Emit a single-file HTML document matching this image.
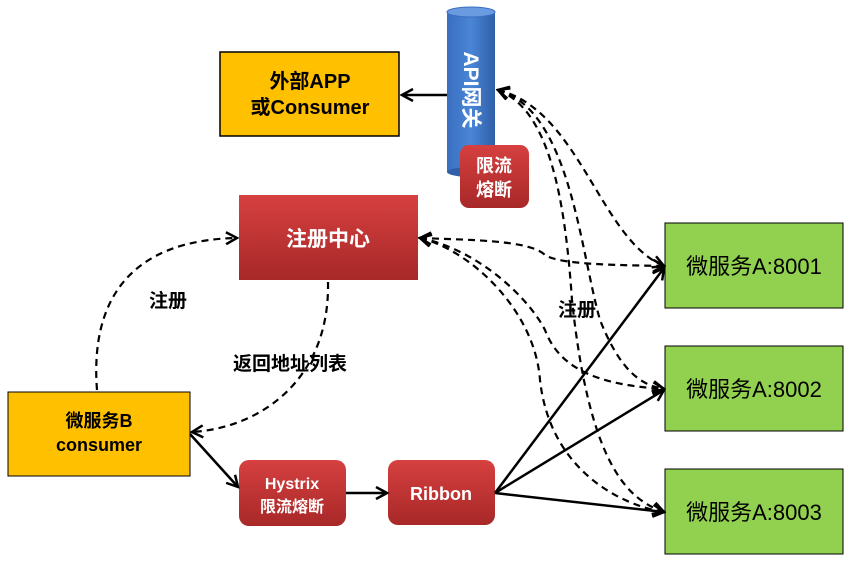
<!DOCTYPE html>
<html><head><meta charset="utf-8"><style>
body{margin:0;background:#fff;width:855px;height:563px;overflow:hidden}
svg text{font-family:"Liberation Sans","Noto Sans CJK SC",sans-serif}
</style></head><body>
<svg width="855" height="563" viewBox="0 0 855 563" xmlns="http://www.w3.org/2000/svg">
<defs>
<marker id="a" viewBox="0 0 14 14" refX="12" refY="7" markerWidth="14" markerHeight="14" markerUnits="userSpaceOnUse" orient="auto-start-reverse">
<path d="M1,1 L12,7 L1,13" fill="none" stroke="#000" stroke-width="2.5"/></marker>
<linearGradient id="r" x1="0" y1="0" x2="0" y2="1"><stop offset="0" stop-color="#d64040"/><stop offset="1" stop-color="#a82828"/></linearGradient>
<linearGradient id="b" x1="0" y1="0" x2="1" y2="0"><stop offset="0" stop-color="#3a6fc0"/><stop offset="0.5" stop-color="#4a85d6"/><stop offset="1" stop-color="#2f5fa8"/></linearGradient>
</defs>
<rect x="220" y="52" width="179" height="84" fill="#ffc000" stroke="#000" stroke-width="1.5"/>
<text x="310" y="88" font-size="20" font-weight="bold" text-anchor="middle">外部APP</text>
<text x="310" y="114" font-size="20" font-weight="bold" text-anchor="middle">或Consumer</text>
<rect x="447" y="12" width="48" height="160" fill="url(#b)"/>
<ellipse cx="471" cy="12" rx="24" ry="5" fill="#6a9ae0" stroke="#3a6fc0"/>
<ellipse cx="471" cy="172" rx="24" ry="5" fill="#2f5fa8"/>
<text x="471" y="97" font-size="21" font-weight="bold" fill="#fff" text-anchor="middle" transform="rotate(90 471 90)">API网关</text>
<rect x="460" y="145" width="69" height="63" rx="9" fill="url(#r)"/>
<text x="494" y="172" font-size="18" font-weight="bold" fill="#fff" text-anchor="middle">限流</text>
<text x="494" y="196" font-size="18" font-weight="bold" fill="#fff" text-anchor="middle">熔断</text>
<rect x="239" y="195" width="179" height="85" fill="url(#r)"/>
<text x="328" y="246" font-size="21" font-weight="bold" fill="#fff" text-anchor="middle">注册中心</text>
<rect x="8" y="392" width="182" height="84" fill="#ffc000" stroke="#000" stroke-width="1"/>
<text x="99" y="427" font-size="18" font-weight="bold" text-anchor="middle">微服务B</text>
<text x="99" y="451" font-size="18" font-weight="bold" text-anchor="middle">consumer</text>
<rect x="239" y="460" width="107" height="66" rx="10" fill="url(#r)"/>
<text x="292" y="489" font-size="16" font-weight="bold" fill="#fff" text-anchor="middle">Hystrix</text>
<text x="292" y="512" font-size="16" font-weight="bold" fill="#fff" text-anchor="middle">限流熔断</text>
<rect x="388" y="460" width="107" height="65" rx="10" fill="url(#r)"/>
<text x="441" y="500" font-size="18" font-weight="bold" fill="#fff" text-anchor="middle">Ribbon</text>
<g fill="#92d050" stroke="#000" stroke-width="1">
<rect x="665" y="223" width="178" height="85"/><rect x="665" y="346" width="178" height="85"/><rect x="665" y="469" width="178" height="85"/></g>
<g font-size="22" text-anchor="middle"><text x="754" y="274">微服务A:8001</text><text x="754" y="397">微服务A:8002</text><text x="754" y="520">微服务A:8003</text></g>
<text x="168" y="307" font-size="19" font-weight="bold" text-anchor="middle">注册</text>
<text x="290" y="370" font-size="19" font-weight="bold" text-anchor="middle">返回地址列表</text>
<text x="577" y="316" font-size="19" font-weight="bold" text-anchor="middle">注册</text>
<g stroke="#000" stroke-width="2.5" fill="none" marker-end="url(#a)">
<line x1="447" y1="95" x2="402" y2="95"/>
<line x1="190" y1="434" x2="238" y2="487"/>
<line x1="346" y1="493" x2="387" y2="493"/>
<line x1="495" y1="493" x2="664" y2="268"/>
<line x1="495" y1="493" x2="664" y2="390"/>
<line x1="495" y1="493" x2="664" y2="512"/>
</g>
<g stroke="#000" stroke-width="2.2" fill="none" stroke-dasharray="7,5" marker-end="url(#a)" marker-start="url(#a)">
<path d="M498,90 C580,110 600,240 664,266"/>
<path d="M498,90 C570,110 580,250 600,320 C620,370 640,385 664,389"/>
<path d="M498,90 C550,110 565,200 572,300 C590,470 630,500 664,512"/>
<path d="M420,238 C470,240 530,240 545,255 C560,265 620,265 664,266"/>
<path d="M420,238 C480,250 530,300 545,330 C560,370 600,385 664,389"/>
<path d="M420,238 C470,250 535,310 540,380 C550,470 620,505 664,512"/>
</g>
<g stroke="#000" stroke-width="2.2" fill="none" stroke-dasharray="7,5" marker-end="url(#a)">
<path d="M97,390 C90,300 130,240 237,238"/>
<path d="M328,282 C330,380 260,428 192,432"/>
</g>
</svg>
</body></html>
